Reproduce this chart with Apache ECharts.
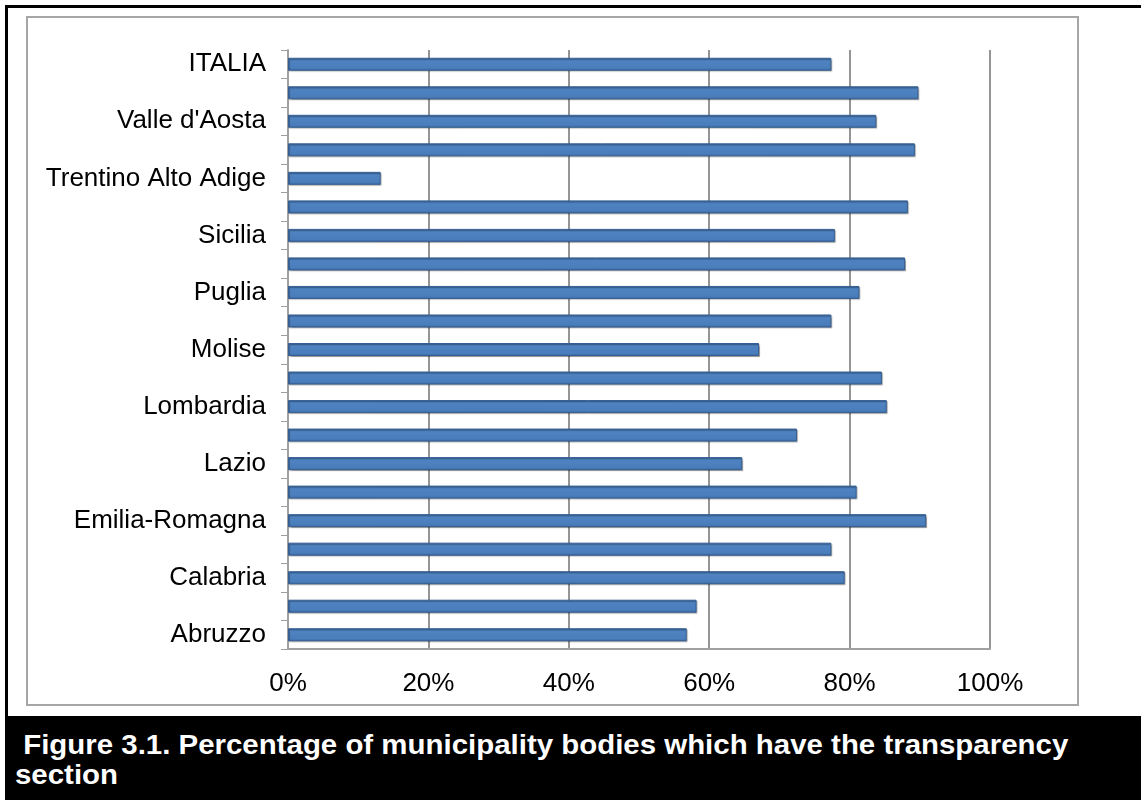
<!DOCTYPE html>
<html lang="it">
<head>
    <meta charset="UTF-8">
    <title>chart</title>
    <style>
        html, body { margin: 0; height: 100%; background: #fff; }
        #page { position: absolute; left: 0; top: 0; width: 1141px; height: 800px; overflow: hidden; }
        #outerL { position: absolute; left: 5px; top: 5px; width: 3px; height: 795px; background: #000; }
        #outerT { position: absolute; left: 5px; top: 5px; width: 1136px; height: 3px; background: #000; }
        #frame { position: absolute; left: 26px; top: 16px; width: 1053px; height: 690px; border: 2px solid #a6a6a6; box-sizing: border-box; }
        #caption { position: absolute; left: 5px; top: 716px; width: 1136px; height: 84px; background: #000; }
        #captionText { position: absolute; left: 10px; top: 14px; color: #fff;
            font-family: "Liberation Sans", Arial, sans-serif; font-weight: bold; font-size: 27px; line-height: 30px;
            white-space: pre; transform: scaleX(1.09); transform-origin: 0 0; }
        #chart { position: absolute; left: 0; top: 0; width: 1141px; height: 716px; }
    </style>
</head>
<body>
<div id="page">
    <div id="outerL"></div>
    <div id="outerT"></div>
    <div id="frame"></div>
    <div id="caption"><div id="captionText"> Figure 3.1. Percentage of municipality bodies which have the transparency
section</div></div>
    <div id="chart"></div>
</div>
<script src="https://cdn.jsdelivr.net/npm/echarts@6/dist/echarts.min.js"></script>
<script>
    // categories from bottom to top, as in the picture
    var regions = ["Abruzzo", "Basilicata", "Calabria", "Campania", "Emilia-Romagna", "Friuli Venezia Giulia",
        "Lazio", "Liguria", "Lombardia", "Marche", "Molise", "Piemonte", "Puglia", "Sardegna", "Sicilia",
        "Toscana", "Trentino Alto Adige", "Umbria", "Valle d'Aosta", "Veneto", "ITALIA"];
    var share = [56.8, 58.2, 79.3, 77.4, 90.9, 81.0, 64.7, 72.5, 85.3, 84.6, 67.1, 77.4, 81.4, 87.9, 77.9,
        88.3, 13.2, 89.3, 83.8, 89.8, 77.4];
    var xTicks = [0, 20, 40, 60, 80, 100];

    var myChart = echarts.init(document.getElementById("chart"), null, {renderer: 'canvas'});

    var option = {
        animation: false,
        grid: {
            left: 288,
            width: 702,
            top: 50,
            bottom: 716 - 649
        },
        xAxis: {
            type: 'value',
            min: xTicks[0],
            max: xTicks[xTicks.length - 1],
            interval: 20,
            axisLine: {show: true, lineStyle: {color: '#a0a0a0', width: 2}},
            axisTick: {show: false},
            axisLabel: {
                formatter: '{value}%',
                color: '#000',
                fontSize: 26,
                fontFamily: 'Liberation Sans',
                margin: 22
            },
            splitLine: {show: true, lineStyle: {color: '#959595', width: 2}}
        },
        yAxis: {
            type: 'category',
            data: regions,
            axisLine: {show: true, lineStyle: {color: '#a0a0a0', width: 2}},
            axisTick: {show: true, interval: 0, length: 7, lineStyle: {color: '#a0a0a0', width: 1}},
            axisLabel: {
                interval: 1,
                color: '#000',
                fontSize: 26,
                fontFamily: 'Liberation Sans',
                margin: 22
            }
        },
        series: [{
            type: 'bar',
            data: share,
            barWidth: 13,
            itemStyle: {
                color: new echarts.graphic.LinearGradient(0, 0, 0, 1, [
                    {offset: 0, color: '#3d6ba3'},
                    {offset: 0.25, color: '#4f82c0'},
                    {offset: 0.8, color: '#4a7dbb'},
                    {offset: 1, color: '#3a67a0'}
                ]),
                borderColor: '#355f93',
                borderWidth: 1,
                shadowColor: 'rgba(0,0,0,0.25)',
                shadowOffsetX: 1,
                shadowOffsetY: 1,
                shadowBlur: 1
            }
        }]
    };
    myChart.setOption(option, true);
</script>
</body>
</html>
